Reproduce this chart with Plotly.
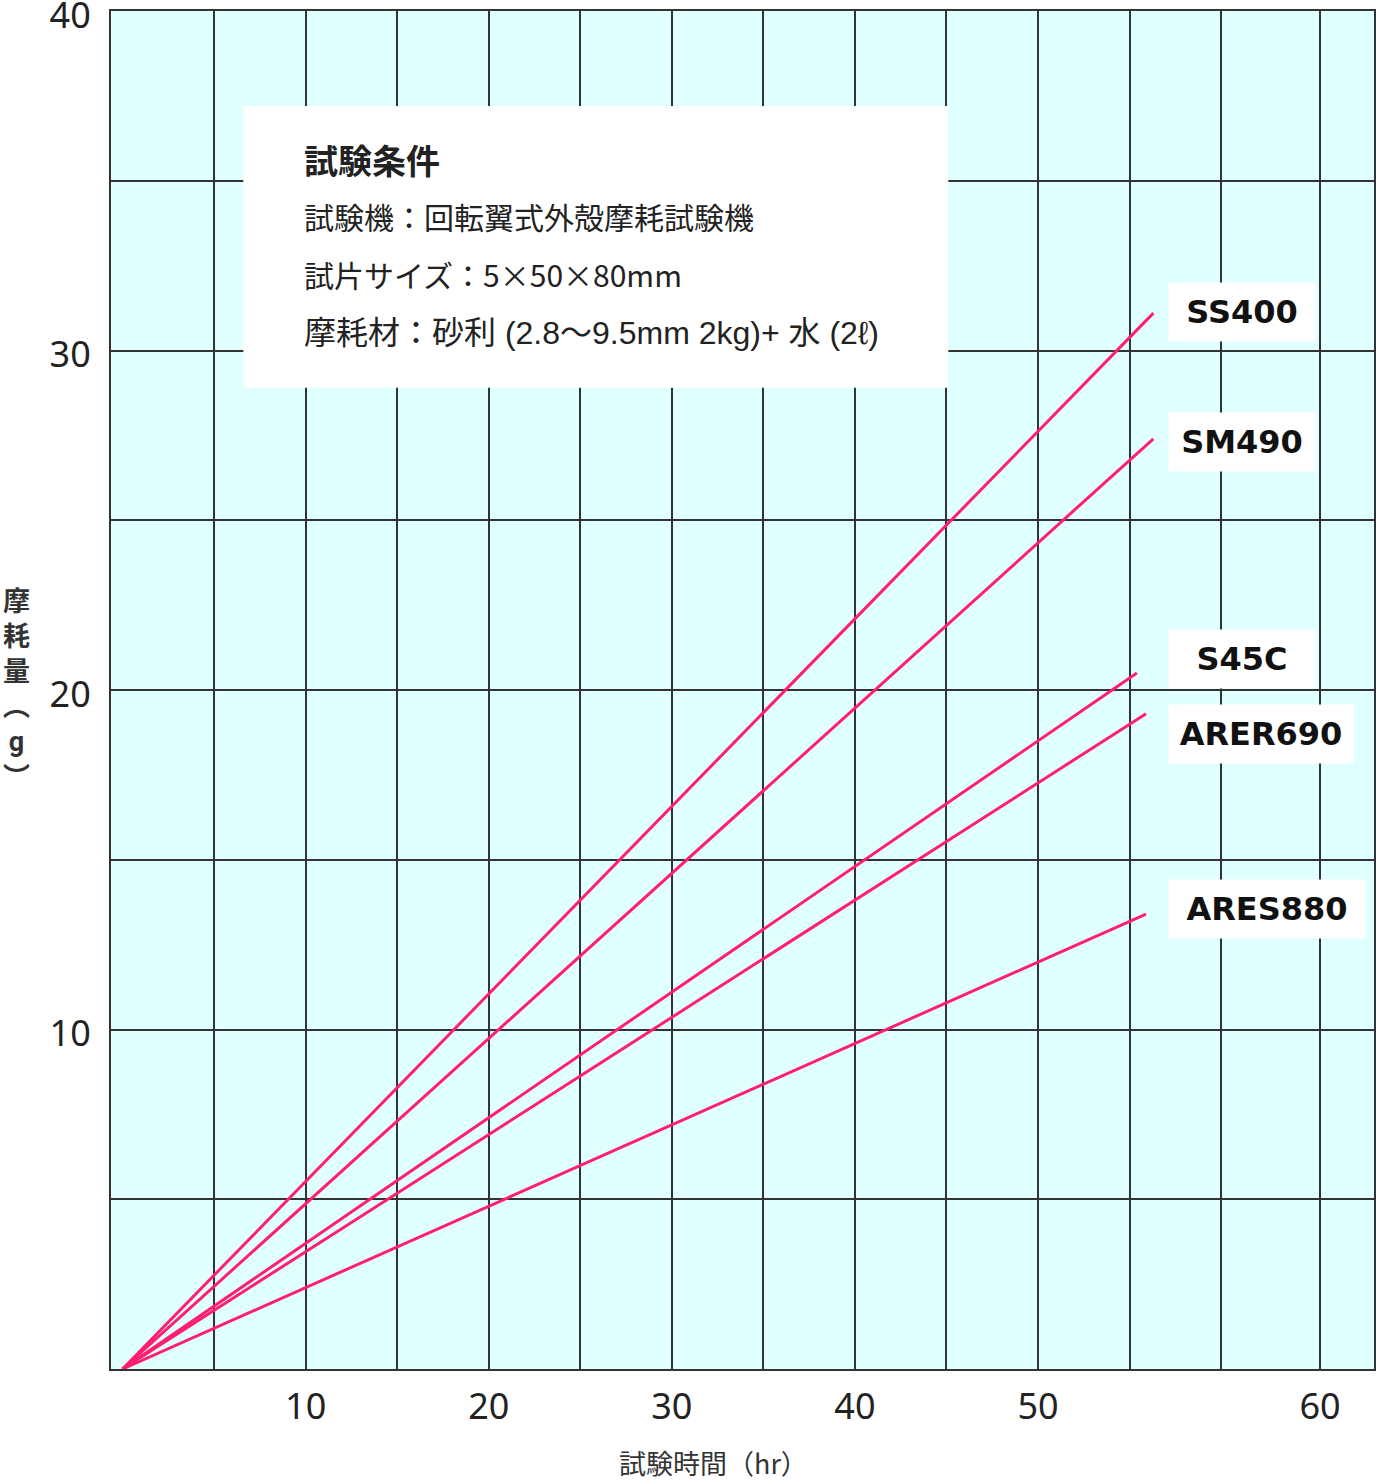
import plotly.graph_objects as go

# end point of each wear line: test time (hr) and wear (g); every line starts at the origin
materials = ["SS400", "SM490", "S45C", "ARER690", "ARES880"]
end_hours = [56.3, 56.3, 55.4, 55.9, 55.9]
end_wear = [31.1, 27.4, 20.5, 19.3, 13.4]

# grid / tick labels as drawn on the original sheet
x_grid = [5, 10, 15, 20, 25, 30, 35, 40, 45, 50, 55, 60, 65.4]
x_labels = ["", "10", "", "20", "", "30", "", "40", "", "50", "", "", "60"]
y_grid = [5, 10, 15, 20, 25, 30, 35, 40]
y_labels = ["", "10", "", "20", "", "30", "", "40"]

cond_title = "試験条件"
cond_lines = [
    "試験機：回転翼式外殻摩耗試験機",
    "試片サイズ：5×50×80mm",
    "摩耗材：砂利 (2.8〜9.5mm 2kg)+ 水 (2ℓ)",
]

x_title = "試験時間（hr）"
y_title = "摩耗量︵g︶"

LINE = "#ff1f6f"
GRID = "#333333"
JP = "Noto Sans CJK JP, sans-serif"
LATIN_JP = "Liberation Sans, Noto Sans CJK JP, sans-serif"

# label box tweaks (px): vertical nudge, inner box width
label_shift = [1, -3, 14, -20, 5]
label_width = [126, 126, 126, 164, 176]

# per-line font for the condition text (last line has the wider latin face)
cond_fonts = [(JP, 30), (JP, 30), (LATIN_JP, 32)]

fig = go.Figure()
for name, hx, wy in zip(materials, end_hours, end_wear):
    fig.add_trace(go.Scatter(
        x=[0, hx], y=[0, wy], mode="lines", name=name,
        line=dict(color=LINE, width=3),
        showlegend=False,
    ))

# material labels at the right end of each line
for name, wy, dy, w in zip(materials, end_wear, label_shift, label_width):
    fig.add_annotation(
        x=57.1, y=wy, xref="x", yref="y",
        xanchor="left", yanchor="middle", yshift=dy,
        text=name, showarrow=False,
        font=dict(family="DejaVu Sans", size=32, color="#111111", weight="bold"),
        bgcolor="white", borderpad=10, width=w, height=38, align="center",
    )

# test-condition box
fig.add_shape(type="rect", x0=6.6, x1=45.1, y0=28.9, y1=37.2,
              xref="x", yref="y", fillcolor="white", line_width=0, layer="above")
fig.add_annotation(
    x=9.8, y=35.64, xref="x", yref="y", xanchor="left", yanchor="middle",
    text="<b>" + cond_title + "</b>", showarrow=False,
    font=dict(family=JP, size=34, color="#222222"),
)
for i, (t, (fam, sz)) in enumerate(zip(cond_lines, cond_fonts)):
    fig.add_annotation(
        x=9.8, y=33.96 - 1.72 * i, xref="x", yref="y",
        xanchor="left", yanchor="middle",
        text=t, showarrow=False,
        font=dict(family=fam, size=sz, color="#222222"),
    )

# axis titles
fig.add_annotation(
    x=0.4774, y=-0.0692, xref="paper", yref="paper",
    xanchor="center", yanchor="middle", text=x_title, showarrow=False,
    font=dict(family=JP, size=27, color="#333333"),
)
fig.add_annotation(
    x=-0.0752, y=0.5, xref="paper", yref="paper",
    xanchor="center", yanchor="middle",
    text="<br>".join(y_title), showarrow=False,
    font=dict(family="Roboto, Noto Sans CJK JP, sans-serif", size=27,
              color="#333333", weight="bold"),
)

axis_common = dict(
    showgrid=True, gridcolor=GRID, gridwidth=2,
    showline=True, linecolor=GRID, linewidth=2, mirror=True,
    zeroline=False, ticks="outside", tickcolor="rgba(0,0,0,0)",
    ticklabeloverflow="allow", automargin=False,
    tickfont=dict(family="Noto Sans", size=36, color="#222222"),
)

fig.update_layout(
    width=1376, height=1484,
    margin=dict(l=111, r=2, t=11, b=115, pad=0),
    paper_bgcolor="white", plot_bgcolor="#e0ffff",
    xaxis=dict(range=[-0.63, 68.35], tickvals=x_grid, ticktext=x_labels,
               ticklen=5, **axis_common),
    yaxis=dict(range=[0, 40], tickvals=y_grid, ticktext=y_labels,
               ticklen=11, ticklabelshift=4, **axis_common),
)

fig.write_html("out.html", config={"displayModeBar": False},
               post_script="document.body.style.margin='0';")
